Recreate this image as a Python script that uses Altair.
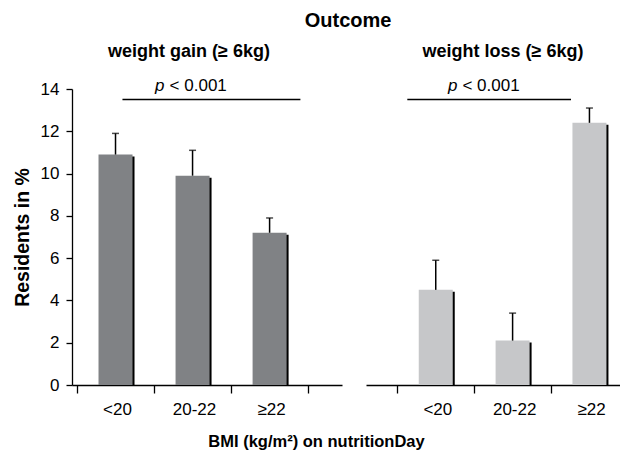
import altair as alt
import pandas as pd

FONT = "Liberation Sans"

categories = ["<20", "20-22", "≥22"]
gain_values = [10.9, 9.9, 7.2]
gain_upper = [11.9, 11.1, 7.9]
loss_values = [4.5, 2.1, 12.4]
loss_upper = [5.9, 3.4, 13.1]
y_ticks = [0, 2, 4, 6, 8, 10, 12, 14]

# significance annotations (data units of each panel)
gain_pline = [0.59, 2.9]
loss_pline = [0.13, 2.26]
pline_y = 13.5
gain_ptext_x = 1.15
loss_ptext_x = 0.795
ptext_y = 13.92

DARK = "#808285"
LIGHT = "#c6c7c9"

label_expr = "[" + ",".join("'" + c + "'" for c in categories) + "][datum.value] || ''"


def panel(values, upper, color, xdomain, xticks, pline, ptext_x, title, title_dx,
          width, show_y):
    df = pd.DataFrame({
        "pos": [i + 0.5 for i in range(len(categories))],
        "cat": categories,
        "value": values,
        "upper": upper,
    })
    x_axis_kwargs = dict(
        values=xticks, labelExpr=label_expr, labelOffset=40, labelFlush=False,
        tickSize=8, tickColor="black", tickWidth=1.3, domainColor="black",
        domainWidth=1.3, labelFont=FONT, labelFontSize=17, labelColor="black",
        labelPadding=8, grid=False, labelOverlap=False,
    )
    if show_y:
        x_axis_kwargs.update(
            title="BMI (kg/m²) on nutritionDay", titleFont=FONT, titleFontSize=16.5,
            titleFontWeight="bold", titleColor="black", titleX=244, titleY=61,
            titleBaseline="alphabetic", titleAlign="center",
        )
    else:
        x_axis_kwargs.update(title=None)
    x_enc = alt.X("pos:Q", scale=alt.Scale(domain=xdomain, nice=False, zero=False),
                  axis=alt.Axis(**x_axis_kwargs))
    if show_y:
        y_axis = alt.Axis(
            values=y_ticks, tickSize=6, tickColor="black", tickWidth=1.3,
            domainColor="black", domainWidth=1.3, labelFont=FONT, labelFontSize=17,
            labelColor="black", labelPadding=7, grid=False,
            title="Residents in %", titleFont=FONT, titleFontSize=19.5,
            titleFontWeight="bold", titleColor="black", titlePadding=8,
        )
    else:
        y_axis = None
    y_scale = alt.Scale(domain=[0, 14], nice=False)
    y_enc = alt.Y("value:Q", scale=y_scale, axis=y_axis)

    base = alt.Chart(df).encode(x=x_enc, y=y_enc)
    shadow = base.mark_bar(color="black", size=34, xOffset=2, yOffset=2).encode(
        y2=alt.datum(0))
    bars = base.mark_bar(color=color, size=34)
    err = base.mark_rule(color="black", strokeWidth=1.5).encode(y2="upper:Q")
    cap = alt.Chart(df).mark_tick(color="black", orient="horizontal", size=7,
                                  thickness=1.5).encode(
        x=x_enc, y=alt.Y("upper:Q", scale=y_scale, axis=y_axis))

    pdf = pd.DataFrame({"pos": [pline[0]], "pos2": [pline[1]], "value": [pline_y]})
    prule = alt.Chart(pdf).mark_rule(color="black", strokeWidth=1.5).encode(
        x=x_enc, x2="pos2:Q", y=y_enc)
    tdf = pd.DataFrame({"pos": [ptext_x], "value": [ptext_y]})
    tp = alt.Chart(tdf).mark_text(text="p", font=FONT, fontSize=17, fontStyle="italic",
                                  align="right", baseline="alphabetic", dx=-1,
                                  color="black").encode(x=x_enc, y=y_enc)
    tv = alt.Chart(tdf).mark_text(text="< 0.001", font=FONT, fontSize=17,
                                  align="left", baseline="alphabetic", dx=4,
                                  color="black").encode(x=x_enc, y=y_enc)
    return alt.layer(shadow, bars, err, cap, prule, tp, tv).properties(
        width=width, height=296,
        title=alt.TitleParams(title, font=FONT, fontSize=18, fontWeight="bold",
                              color="black", anchor="middle", frame="group",
                              dx=title_dx, offset=16),
    )


left = panel(gain_values, gain_upper, DARK, [0, 3.375], [0, 1, 2, 3], gain_pline,
             gain_ptext_x, "weight gain (≥ 6kg)", -18, 270, True)
right = panel(loss_values, loss_upper, LIGHT, [-0.3425, 2.8325], [0, 1, 2], loss_pline,
              loss_ptext_x, "weight loss (≥ 6kg)", 10, 254, False)

chart = alt.hconcat(left, right, spacing=24, bounds="flush").properties(
    title=alt.TitleParams("Outcome", font=FONT, fontSize=20, fontWeight="bold",
                          color="black", anchor="middle", frame="bounds", dx=32,
                          offset=12),
    padding={"left": 4, "top": 2, "right": 0, "bottom": 0},
).configure_view(stroke=None)

chart.save("out.html", embed_options={"renderer": "svg", "actions": False})
